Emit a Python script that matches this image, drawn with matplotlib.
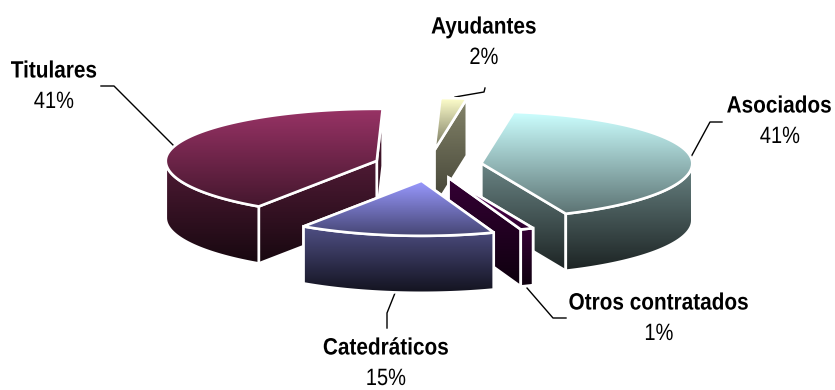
import numpy as np
import matplotlib
matplotlib.use('Agg')
import matplotlib.pyplot as plt
from matplotlib.patches import Polygon
from matplotlib.colors import to_rgb
from matplotlib.patheffects import AbstractPathEffect
from matplotlib.transforms import Affine2D

# slices in pie order, clockwise from the start angle
labels = ['Asociados', 'Otros contratados', 'Catedráticos', 'Titulares', 'Ayudantes']
values = [41, 1, 15, 41, 2]
explode = [0.25, 0.25, 0.29, 0.26, 0.29]
colors = ['#ccffff', '#660066', '#9999ff', '#993366', '#ffffcc']
draw_order = [3, 4, 0, 1, 2]

# pie geometry in pixels
start_angle = 8.8
cx, cy = 429, 165
rx = 211
ry_back, ry_front = 52, 55
depth = 57

plt.rcParams['font.family'] = ['Liberation Sans', 'DejaVu Sans']

fig = plt.figure(figsize=(8.35, 3.9), dpi=100)
ax = fig.add_axes([0, 0, 1, 1])
ax.set_xlim(0, 835)
ax.set_ylim(390, 0)
ax.axis('off')


# no narrow font here, so squeeze the glyphs towards an anchor in the string
class Narrow(AbstractPathEffect):
    def __init__(self, sx, anchor=0.5):
        super().__init__()
        self.sx = sx
        self.anchor = anchor

    def draw_path(self, renderer, gc, tpath, affine, rgbFace=None):
        x0, x1 = tpath.vertices[:, 0].min(), tpath.vertices[:, 0].max()
        at = x0 + (x1 - x0) * self.anchor
        squeeze = Affine2D().translate(-at, 0).scale(self.sx, 1).translate(at, 0)
        renderer.draw_path(gc, tpath, squeeze + affine, rgbFace)


def point(center, theta):
    t = np.radians(theta)
    ry = np.where(np.cos(t) > 0, ry_back, ry_front)
    return center[0] + rx * np.sin(t), center[1] - ry * np.cos(t)


def gradient_poly(pts, color, hi, lo, y0, y1, z):
    pts = np.array(pts)
    x_min, x_max = pts[:, 0].min(), pts[:, 0].max()
    y_min, y_max = pts[:, 1].min(), pts[:, 1].max()
    ys = np.linspace(y_min, y_max, 200)
    f = np.clip((ys - y0) / (y1 - y0), 0, 1)
    shade = hi + (lo - hi) * f
    img = np.outer(shade, np.array(to_rgb(color))).reshape(200, 1, 3)
    im = ax.imshow(img, extent=[x_min, x_max, y_max, y_min], aspect='auto', zorder=z,
                   interpolation='bilinear')
    patch = Polygon(pts, closed=True, transform=ax.transData, fc='none', ec='none')
    ax.add_patch(patch)
    im.set_clip_path(patch)
    ax.add_patch(Polygon(pts, closed=True, fc='none', ec='white', lw=1.9, zorder=z + 0.1,
                         joinstyle='miter'))


def draw_slice(i, a0, a1, z):
    mid = np.radians((a0 + a1) / 2)
    center = (cx + explode[i] * rx * np.sin(mid),
              cy - explode[i] * (ry_back if np.cos(mid) > 0 else ry_front) * np.cos(mid))
    color = colors[i]
    bottom = center[1] + ry_front + depth

    # radial walls, the one further back goes first
    for a in sorted([a0, a1], key=lambda v: -np.cos(np.radians(v))):
        px, py = point(center, a)
        wall = [center, (px, py), (px, py + depth), (center[0], center[1] + depth)]
        gradient_poly(wall, color, 0.52, 0.12, min(center[1], py), bottom, z)
        z += 0.2

    # outer wall, only the part that faces the front
    w0, w1 = max(a0, 90), min(a1, 270)
    if w1 > w0:
        th = np.linspace(w0, w1, 80)
        x, y = point(center, th)
        wall = list(zip(x, y)) + list(zip(x[::-1], y[::-1] + depth))
        gradient_poly(wall, color, 0.52, 0.12, y.min(), bottom, z)
        z += 0.2

    # top surface
    th = np.linspace(a0, a1, 80)
    x, y = point(center, th)
    top = [center] + list(zip(x, y))
    y_top = min(p[1] for p in top)
    y_bot = max(p[1] for p in top)
    gradient_poly(top, color, 1.0, 0.45, y_top, y_bot, z)


angles = start_angle + np.concatenate([[0], np.cumsum(values)]) * 3.6
for order, i in enumerate(draw_order):
    draw_slice(i, angles[i], angles[i + 1], 2 + order)

# leader lines
leaders = [
    ([691, 710, 722], [157, 122, 122]),
    ([527, 553, 566], [288, 318, 318]),
    ([395, 387, 387], [293, 313, 328]),
    ([175, 114, 101], [147, 86, 86]),
    ([455, 484, 485], [97, 92, 88]),
]
for lx, ly in leaders:
    ax.plot(lx, ly, color='black', lw=1, zorder=1)

# label text, Asociados hangs from its right end so it stays inside the picture
text_pos = [(780, 106), (659, 303), (386, 348), (54, 71), (484, 27)]
pct_offset = 31
for i, (tx, ty) in enumerate(text_pos):
    if labels[i] == 'Asociados':
        ax.text(832, ty, labels[i], ha='right', va='center', fontsize=17, fontweight='bold',
                color='black', zorder=20, path_effects=[Narrow(0.88, anchor=1.0)])
    else:
        ax.text(tx, ty, labels[i], ha='center', va='center', fontsize=17, fontweight='bold',
                color='black', zorder=20, path_effects=[Narrow(0.88)])
    ax.text(tx, ty + pct_offset, f'{values[i]}%', ha='center', va='center', fontsize=17,
            color='black', zorder=20, path_effects=[Narrow(0.85)])

fig.savefig('out.png', dpi=100, facecolor='white')
